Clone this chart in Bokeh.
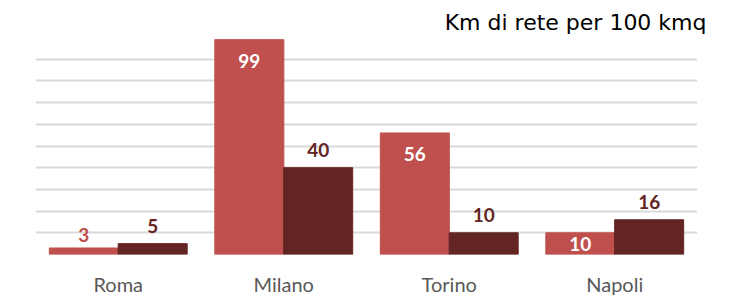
from bokeh.plotting import figure
from bokeh.models import ColumnDataSource, FactorRange, Range1d, FixedTicker
from bokeh.transform import dodge
from bokeh.core.properties import value
from bokeh.embed import file_html
from bokeh.resources import INLINE

cities = ["Roma", "Milano", "Torino", "Napoli"]
series_a = [3, 99, 56, 10]
series_b = [5, 40, 10, 16]
title_text = "Km di rete per 100 kmq"

RED = "#C0504D"
DARK = "#632523"

p = figure(width=737, height=300, x_range=FactorRange(*cities, range_padding=0),
           y_range=Range1d(0, 100), output_backend="svg", toolbar_location=None,
           min_border_left=35, min_border_right=40, min_border_top=37, min_border_bottom=46)

p.title.text = title_text
p.title.align = "right"
p.title.text_font = "DejaVu Sans"
p.title.text_font_size = "22px"
p.title.text_font_style = "normal"
p.title.text_color = "#000000"
p.title.offset = -9
p.title.standoff = 5

src = ColumnDataSource(dict(city=cities, a=series_a, b=series_b))
p.vbar(x=dodge("city", -0.208, range=p.x_range), top="a", width=0.417, source=src,
       fill_color=RED, line_color=RED)
p.vbar(x=dodge("city", 0.208, range=p.x_range), top="b", width=0.417, source=src,
       fill_color=DARK, line_color=DARK)

# data labels
a_inside = [v >= 10 for v in series_a]
a_y = [max(v - 9.7, v / 2) if ins else v + 6.0 for v, ins in zip(series_a, a_inside)]
a_col = ["#FFFFFF" if ins else RED for ins in a_inside]
lab_a = ColumnDataSource(dict(city=cities, y=a_y, t=[str(v) for v in series_a], c=a_col))
lab_b = ColumnDataSource(dict(city=cities, y=[v + 8.2 for v in series_b],
                              t=[str(v) for v in series_b], c=[DARK] * len(series_b)))
for s, off in ((lab_a, -0.208), (lab_b, 0.208)):
    p.text(x=dodge("city", off, range=p.x_range), y="y", text="t", text_color="c",
           text_font=value("Lato"), text_font_style="bold", text_font_size="19px",
           text_align="center", text_baseline="middle", source=s)

p.yaxis.visible = False
p.ygrid.ticker = FixedTicker(ticks=list(range(0, 101, 10)))
p.ygrid.grid_line_color = "#D9D9D9"
p.ygrid.grid_line_width = 2
p.xgrid.grid_line_color = None

p.xaxis.axis_line_color = None
p.xaxis.major_tick_line_color = None
p.xaxis.minor_tick_line_color = None
p.xaxis.major_label_text_font = "Lato"
p.xaxis.major_label_text_font_size = "20px"
p.xaxis.major_label_text_color = "#595959"
p.xaxis.major_label_standoff = 11
p.outline_line_color = None

open("out.html", "w").write(file_html(p, INLINE))
